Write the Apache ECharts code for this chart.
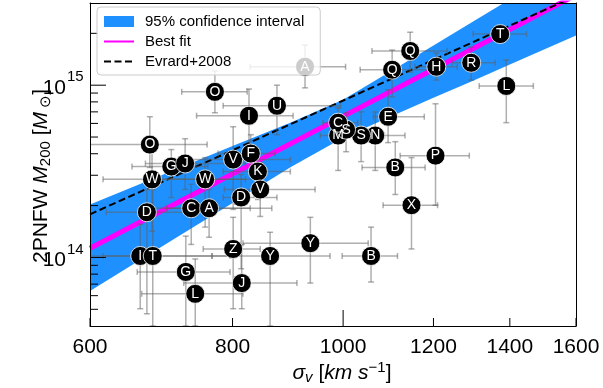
<!DOCTYPE html>
<html><head><meta charset="utf-8">
<script src="https://cdn.jsdelivr.net/npm/echarts@6/dist/echarts.min.js"></script>
<style>html,body{margin:0;padding:0;background:#fff}#c{width:603px;height:388px}</style>
</head><body><div id="c"></div>
<script>
// ---------------- data ----------------
const labels    = ['A','O','U','I','O','G','J','W','W','V','F','K','V','D','C','A','D','I','T','Z','Y','Y','G','J','L','B','X','P','B','E','N','S','M','S','C','Q','Q','H','R','T','L'];
const sigma     = [926,772,875,827,677,707,727,680,757,801,830,842,846,814,736,763,673,664,681,801,863,936,728,815,742,1058,1148,1205,1111,1095,1067,1037,990,1006,990,1145,1104,1207,1295,1373,1390];
const sigmaLow  = [829,722,785,744,590,653,671,616,691,734,777,785,787,785,677,700,620,590,616,754,768,817,660,725,666,998,1084,1122,1039,1063,1014,983,955,974,960,1060,1035,1156,1246,1300,1316];
const sigmaHigh = [1005,824,995,904,760,761,821,821,846,899,872,899,945,875,829,866,734,767,796,846,974,1052,796,911,817,1116,1210,1290,1180,1178,1133,1087,1037,1057,1030,1234,1192,1259,1359,1448,1468];
const mass      = [1.28e15,9.15e14,7.6e14,6.65e14,4.52e14,3.37e14,3.51e14,2.84e14,2.84e14,3.70e14,4.01e14,3.15e14,2.48e14,2.23e14,1.93e14,1.93e14,1.83e14,1.02e14,1.02e14,1.12e14,1.02e14,1.21e14,8.24e13,7.1e13,6.15e13,1.02e14,2.01e14,3.90e14,3.33e14,6.56e14,5.10e14,5.10e14,5.10e14,5.52e14,6.06e14,1.58e15,1.23e15,1.28e15,1.35e15,1.98e15,9.9e14];
const massLow   = [9.65e14,6.92e14,5.16e14,4.23e14,3.33e14,2.23e14,2.48e14,1.42e14,1.50e14,1.90e14,3.03e14,2.17e14,1.73e14,8.6e13,1.19e14,1.31e14,4.71e13,5.04e13,4.0e13,5.04e13,4.0e13,7.1e13,4.0e13,5.04e13,4.0e13,7.2e13,1.12e14,2.01e14,2.32e14,4.64e14,3.2e14,3.6e14,3.2e14,4.11e14,5.0e14,1.19e15,8.56e14,1.07e15,1.07e15,1.78e15,6.06e14];
const massHigh  = [1.71e15,1.21e15,1.0e15,9.5e14,6.56e14,4.23e14,4.89e14,4.23e14,3.80e14,5.74e14,5.16e14,4.23e14,3.56e14,3.03e14,2.66e14,2.48e14,2.48e14,1.56e14,2.48e14,1.71e14,1.40e14,1.71e14,1.33e14,1.19e14,9.8e13,1.50e14,3.80e14,7.8e14,4.70e14,9.4e14,7.0e14,7.0e14,6.7e14,6.92e14,7.4e14,2.03e15,1.60e15,1.54e15,1.66e15,2.17e15,1.40e15];

const bandSigma = [600,700,800,900,1000,1100,1200,1300,1400,1500,1600];
const bandLow   = [6.38e13,1.20e14,2.07e14,3.35e14,4.95e14,6.56e14,8.45e14,1.06e15,1.32e15,1.61e15,1.94e15];
const bandHigh  = [2.03e14,3.08e14,4.43e14,6.08e14,8.22e14,1.20e15,1.70e15,2.34e15,3.15e15,4.16e15,5.38e15];

const fitSigma  = [600,1600];
const bestFit   = [1.13e14,3.34e15];
const evrard    = [1.78e14,3.3e15];

const xTickValues = [600,800,1000,1200,1400,1600];
const xTickLabels = ['600','800','1000','1200','1400','1600'];
const xMajorTicks = [1000];
const yTickValues = [5e13,6e13,7e13,8e13,9e13,1e14,2e14,3e14,4e14,5e14,6e14,7e14,8e14,9e14,1e15,2e15];
const yMajorTicks = [1e14,1e15];
const yMajorExp   = {'100000000000000':'14','1000000000000000':'15'};

const X_MIN=600, X_MAX=1600, Y_MIN=4e13, Y_MAX=3e15;
const FONT = "'Liberation Sans', Arial, Helvetica, sans-serif";

// ---------------- chart ----------------
const chart = echarts.init(document.getElementById('c'), null, {renderer:'canvas', width:603, height:388});

function axisCommon(min, max, pos){
  return {type:'log', logBase:10, min:min, max:max, position:pos, z:10,
    axisLine:{show:true, onZero:false, lineStyle:{color:'#000', width:1}},
    axisTick:{show:false}, axisLabel:{show:false}, splitLine:{show:false}, minorTick:{show:false}};
}

function seg(x1,y1,x2,y2,style){ return {type:'line', shape:{x1,y1,x2,y2}, style}; }

const option = {
  animation:false,
  backgroundColor:'#fff',
  grid:{left:90, right:27, top:3, bottom:62, containLabel:false},
  xAxis:[axisCommon(X_MIN,X_MAX,'bottom'), axisCommon(X_MIN,X_MAX,'top')],
  yAxis:[axisCommon(Y_MIN,Y_MAX,'left'), axisCommon(Y_MIN,Y_MAX,'right')],
  legend:{
    left:97, top:7, z:20, orient:'vertical', itemWidth:30, itemHeight:11, itemGap:5,
    padding:[7,16,6,6], backgroundColor:'rgba(255,255,255,0.8)', borderColor:'#cccccc',
    borderWidth:1, borderRadius:4, selectedMode:false,
    textStyle:{fontSize:15, fontFamily:FONT, color:'#000', padding:[0,0,0,6]},
    data:[{name:'95% confidence interval', icon:'rect'},
          {name:'Best fit', itemStyle:{opacity:0}},
          {name:'Evrard+2008', itemStyle:{opacity:0}}]
  },
  graphic:[
    {type:'text', x:342, y:373, z:30, style:{
      text:'{i|σ}{sub|v}{n| [}{i|km s}{sup|−1}{n|]}',
      align:'center', verticalAlign:'middle', textAlign:'center', textVerticalAlign:'middle',
      fill:'#000', font:'21px '+FONT,
      rich:{
        i:{fontSize:21, fontStyle:'italic', fontFamily:FONT, fill:'#000', color:'#000'},
        n:{fontSize:21, fontFamily:FONT, fill:'#000', color:'#000'},
        sub:{fontSize:15, fontStyle:'italic', fontFamily:FONT, padding:[9,0,0,0], fill:'#000', color:'#000'},
        sup:{fontSize:15, fontFamily:FONT, padding:[0,0,10,0], fill:'#000', color:'#000'}
      }}},
    {type:'text', x:41, y:176, rotation:Math.PI/2, z:30, style:{
      text:'{n|2PNFW }{i|M}{sub|200}{n| [}{i|M}{sub| ⊙}{n|]}',
      align:'center', verticalAlign:'middle', textAlign:'center', textVerticalAlign:'middle',
      fill:'#000', font:'21px '+FONT,
      rich:{
        i:{fontSize:21, fontStyle:'italic', fontFamily:FONT, fill:'#000', color:'#000'},
        n:{fontSize:21, fontFamily:FONT, fill:'#000', color:'#000'},
        sub:{fontSize:15, fontFamily:FONT, padding:[9,0,0,0], fill:'#000', color:'#000'}
      }}}
  ],
  series:[
    { // confidence band
      type:'custom', name:'95% confidence interval', z:2, clip:true, silent:true,
      itemStyle:{color:'#1e90ff'},
      data: bandSigma.map((s,i)=>[s, bandLow[i], bandHigh[i]]),
      encode:{x:0, y:1},
      renderItem:function(params, api){
        if (params.dataIndex !== 0) return null;
        const pts = [];
        for (let i=0;i<bandSigma.length;i++) pts.push(api.coord([bandSigma[i], bandHigh[i]]));
        for (let i=bandSigma.length-1;i>=0;i--) pts.push(api.coord([bandSigma[i], bandLow[i]]));
        return {type:'polygon', shape:{points:pts}, style:{fill:'#1e90ff', stroke:null}};
      }
    },
    {
      type:'line', name:'Best fit', z:3, symbol:'none', silent:true,
      data: fitSigma.map((s,i)=>[s, bestFit[i]]),
      lineStyle:{color:'#ff00ff', width:5}, itemStyle:{color:'#ff00ff'}
    },
    {
      type:'line', name:'Evrard+2008', z:4, symbol:'none', silent:true,
      data: fitSigma.map((s,i)=>[s, evrard[i]]),
      lineStyle:{color:'#000', width:2, type:[7,3.5]}, itemStyle:{color:'#000'}
    },
    { // error bars
      type:'custom', name:'errors', z:5, clip:true, silent:true,
      data: labels.map((_,i)=>[sigma[i], mass[i], sigmaLow[i], sigmaHigh[i], massLow[i], massHigh[i]]),
      encode:{x:0, y:1},
      renderItem:function(params, api){
        const s=api.value(0), m=api.value(1);
        const L=api.coord([api.value(2), m]), R=api.coord([api.value(3), m]);
        const B=api.coord([s, api.value(4)]), T=api.coord([s, api.value(5)]);
        const st={stroke:'rgba(95,95,95,0.5)', lineWidth:1.5};
        const c=3;
        return {type:'group', children:[
          seg(L[0],L[1],R[0],R[1],st), seg(T[0],T[1],B[0],B[1],st),
          seg(L[0],L[1]-c,L[0],L[1]+c,st), seg(R[0],R[1]-c,R[0],R[1]+c,st),
          seg(T[0]-c,T[1],T[0]+c,T[1],st), seg(B[0]-c,B[1],B[0]+c,B[1],st)
        ]};
      }
    },
    { // clusters
      type:'scatter', name:'clusters', z:6, silent:true,
      data: labels.map((l,i)=>[sigma[i], mass[i], l]),
      symbol:'circle', symbolSize:19,
      itemStyle:{color:'#000', borderColor:'#fff', borderWidth:0.8, opacity:1},
      label:{show:true, position:'inside', formatter:(p)=>p.data[2], color:'#fff',
             fontSize:14, fontFamily:FONT, textBorderWidth:0},
      emphasis:{disabled:true}
    },
    { // x ticks + labels
      type:'custom', name:'xticks', z:12, clip:false, silent:true,
      data: xTickValues.map(v=>[v, Y_MIN]),
      encode:{x:0, y:1},
      renderItem:function(params, api){
        const v=api.value(0);
        const p=api.coord([v, api.value(1)]);
        const len = xMajorTicks.indexOf(v)>=0 ? 16 : 8;
        return {type:'group', children:[
          seg(p[0],p[1],p[0],p[1]-len,{stroke:'#000', lineWidth:1}),
          {type:'text', x:p[0], y:p[1]+11, style:{text:xTickLabels[params.dataIndex],
            align:'center', verticalAlign:'top', textAlign:'center', textVerticalAlign:'top',
            fontSize:21, fontFamily:FONT, fill:'#000'}}
        ]};
      }
    },
    { // y ticks + labels
      type:'custom', name:'yticks', z:12, clip:false, silent:true,
      data: yTickValues.map(v=>[X_MIN, v]),
      encode:{x:0, y:1},
      renderItem:function(params, api){
        const v=api.value(1);
        const p=api.coord([api.value(0), v]);
        const major = yMajorTicks.indexOf(v)>=0;
        const len = major ? 16 : 8;
        const ch=[seg(p[0],p[1],p[0]+len,p[1],{stroke:'#000', lineWidth:1})];
        if (major){
          const exp = yMajorExp[String(v)];
          ch.push({type:'text', x:p[0]-24, y:p[1]+3, style:{text:'10', align:'right', verticalAlign:'middle',
            textAlign:'right', textVerticalAlign:'middle', fontSize:21, fontFamily:FONT, fill:'#000'}});
          ch.push({type:'text', x:p[0]-23, y:p[1]-8, style:{text:exp, align:'left', verticalAlign:'middle',
            textAlign:'left', textVerticalAlign:'middle', fontSize:15, fontFamily:FONT, fill:'#000'}});
        }
        return {type:'group', children:ch};
      }
    }
  ]
};
chart.setOption(option);
</script>
</body></html>
